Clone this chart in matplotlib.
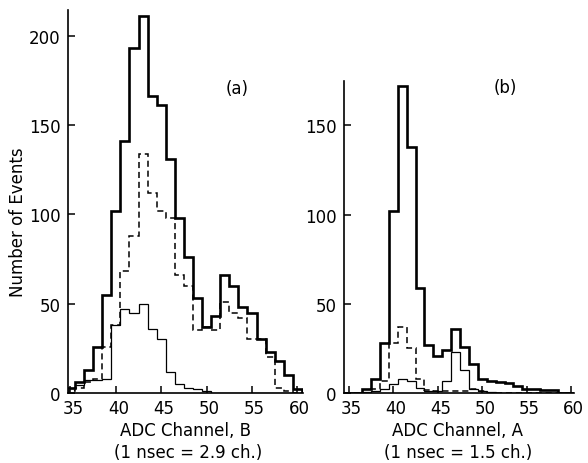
import numpy as np
import matplotlib
matplotlib.use('Agg')
import matplotlib.pyplot as plt
import matplotlib.transforms as mtrans

# ADC channels (bins of one channel)
chan = list(range(35, 61))

# panel (a) - channel B
a_total = [3, 6, 13, 26, 55, 102, 141, 193, 211, 166, 161, 131, 98,
           76, 53, 37, 43, 66, 60, 48, 45, 30, 23, 18, 10, 2]
a_dash = [1, 3, 6, 8, 26, 38, 68, 88, 134, 112, 102, 98, 66,
          60, 35, 37, 35, 51, 45, 42, 30, 30, 20, 3, 1, 0]
a_thin = [3, 4.5, 7, 7, 8, 38, 47, 45, 50, 36, 30, 12, 5,
          3, 2.5, 1, 0, 0, 0, 0, 0, 0, 0, 0, 0, 0]

# panel (b) - channel A
b_total = [0, 0, 2, 8, 28, 102, 172, 138, 59, 27, 21, 24, 36,
           26, 16, 8, 7, 6, 5.5, 4, 2.5, 2, 1.5, 1.5, 0, 0]
b_dash = [0, 0, 0, 2, 7, 28, 37, 25, 8, 1.5, 1, 1, 1,
          1, 2, 1, 0, 0, 0, 0, 0, 0, 0, 0, 0, 0]
b_thin = [0, 0, 0.5, 1, 2.5, 5, 8, 7, 3, 1, 1, 6.5, 23,
          13, 2, 1, 0.5, 0, 0, 0, 0, 0, 0, 0, 0, 0]

edges = np.append(np.array(chan) - 0.5, chan[-1] + 0.5)

W, H = 588, 464
fig = plt.figure(figsize=(W / 100, H / 100), dpi=100)

def make_ax(rect, xlim, ylim, yticks):
    ax = fig.add_axes(rect)
    ax.set_xlim(xlim)
    ax.set_ylim(ylim)
    ax.set_xticks([35, 40, 45, 50, 55, 60])
    ax.set_yticks(yticks)
    for s in ['top', 'right']:
        ax.spines[s].set_visible(False)
    for s in ['left', 'bottom']:
        ax.spines[s].set_linewidth(1.2)
    ax.tick_params(direction='in', length=5, width=1.1, labelsize=12)
    ax.tick_params(axis='x', pad=4)
    ax.tick_params(axis='y', pad=5)
    # x labels sit a little right of their ticks in the original
    shift = mtrans.ScaledTranslation(2.5 / 100, 0, fig.dpi_scale_trans)
    for lab in ax.get_xticklabels():
        lab.set_transform(lab.get_transform() + shift)
    return ax

def draw(ax, tot, dash, thin):
    ax.stairs(tot, edges, color='k', lw=1.9)
    ax.stairs(dash, edges, color='k', lw=1.1, linestyle=(0, (4, 2.5)))
    ax.stairs(thin, edges, color='k', lw=0.9)

ax1 = make_ax([67.7 / W, 70 / H, 235.1 / W, 383.3 / H], (34.7, 60.6), (0, 214.5),
              [0, 50, 100, 150, 200])
draw(ax1, a_total, a_dash, a_thin)
ax1.text(0.72, 0.796, '(a)', transform=ax1.transAxes, fontsize=12, ha='center', va='center')

ax2 = make_ax([343.5 / W, 70 / H, 230.5 / W, 312.3 / H], (34.4, 60.3), (0, 175),
              [0, 50, 100, 150])
draw(ax2, b_total, b_dash, b_thin)
ax2.text(0.70, 0.98, '(b)', transform=ax2.transAxes, fontsize=12, ha='center', va='center')

fig.text(18 / W, 1 - 222 / H, 'Number of Events', rotation=90, fontsize=12,
         ha='center', va='center')
fig.text(186 / W, 1 - 431 / H, 'ADC Channel, B', fontsize=12, ha='center', va='center')
fig.text(188 / W, 1 - 453 / H, '(1 nsec = 2.9 ch.)', fontsize=12, ha='center', va='center')
fig.text(457 / W, 1 - 431 / H, 'ADC Channel, A', fontsize=12, ha='center', va='center')
fig.text(458 / W, 1 - 453 / H, '(1 nsec = 1.5 ch.)', fontsize=12, ha='center', va='center')

fig.savefig('out.png', dpi=100)
